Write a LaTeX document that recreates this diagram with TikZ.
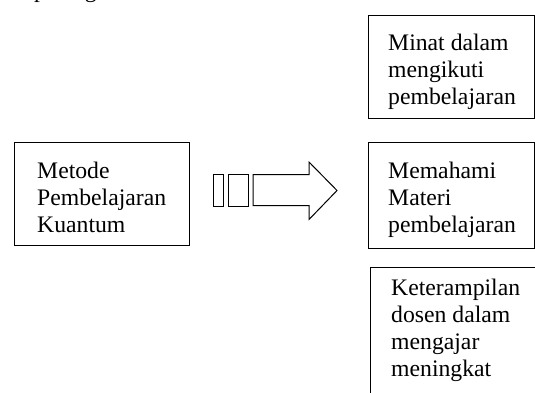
\documentclass[tikz,border=0pt]{standalone}
\usepackage{fontspec}
\setmainfont{Liberation Serif}
\begin{document}
\begin{tikzpicture}[x=1pt,y=-1pt,
  boxstyle/.style={draw=black, line width=1.2pt, rectangle, inner sep=0pt},
  txtstyle/.style={anchor=base west, inner sep=0pt, font=\fontsize{23.7}{27}\selectfont},
  arrowpart/.style={draw=black, line width=1pt, line join=miter}]
\useasboundingbox (0,0) rectangle (535,392);
% cut-off text at top edge
\node[txtstyle] (toptext) at (34,-2.5) {pada gambar};
% boxes
\node[boxstyle, minimum width=175pt, minimum height=103pt, anchor=north west] (metode) at (14,142) {};
\node[boxstyle, minimum width=166pt, minimum height=103pt, anchor=north west] (minat) at (368,15) {};
\node[boxstyle, minimum width=166pt, minimum height=106pt, anchor=north west] (memahami) at (368,142) {};
\node[boxstyle, minimum width=190pt, minimum height=140pt, anchor=north west] (keterampilan) at (370,267) {};
% texts
\node[txtstyle] (tmetode) at (37,178) {\begin{tabular}[t]{@{}l@{}}Metode\\Pembelajaran\\Kuantum\end{tabular}};
\node[txtstyle] (tminat) at (388,50) {\begin{tabular}[t]{@{}l@{}}Minat dalam\\mengikuti\\pembelajaran\end{tabular}};
\node[txtstyle] (tmemahami) at (388,178) {\begin{tabular}[t]{@{}l@{}}Memahami\\Materi\\pembelajaran\end{tabular}};
\node[txtstyle] (tketerampilan) at (391,295) {\begin{tabular}[t]{@{}l@{}}Keterampilan\\dosen dalam\\mengajar\\meningkat\end{tabular}};
% block arrow
\draw[arrowpart] (213,174) rectangle (223,206);
\draw[arrowpart] (228,174) rectangle (248,206);
\draw[arrowpart] (253,174.5) -- (309,174.5) -- (309,162) -- (337,190.5) -- (309,219.5) -- (309,205.5) -- (253,205.5) -- cycle;
\end{tikzpicture}
\end{document}
